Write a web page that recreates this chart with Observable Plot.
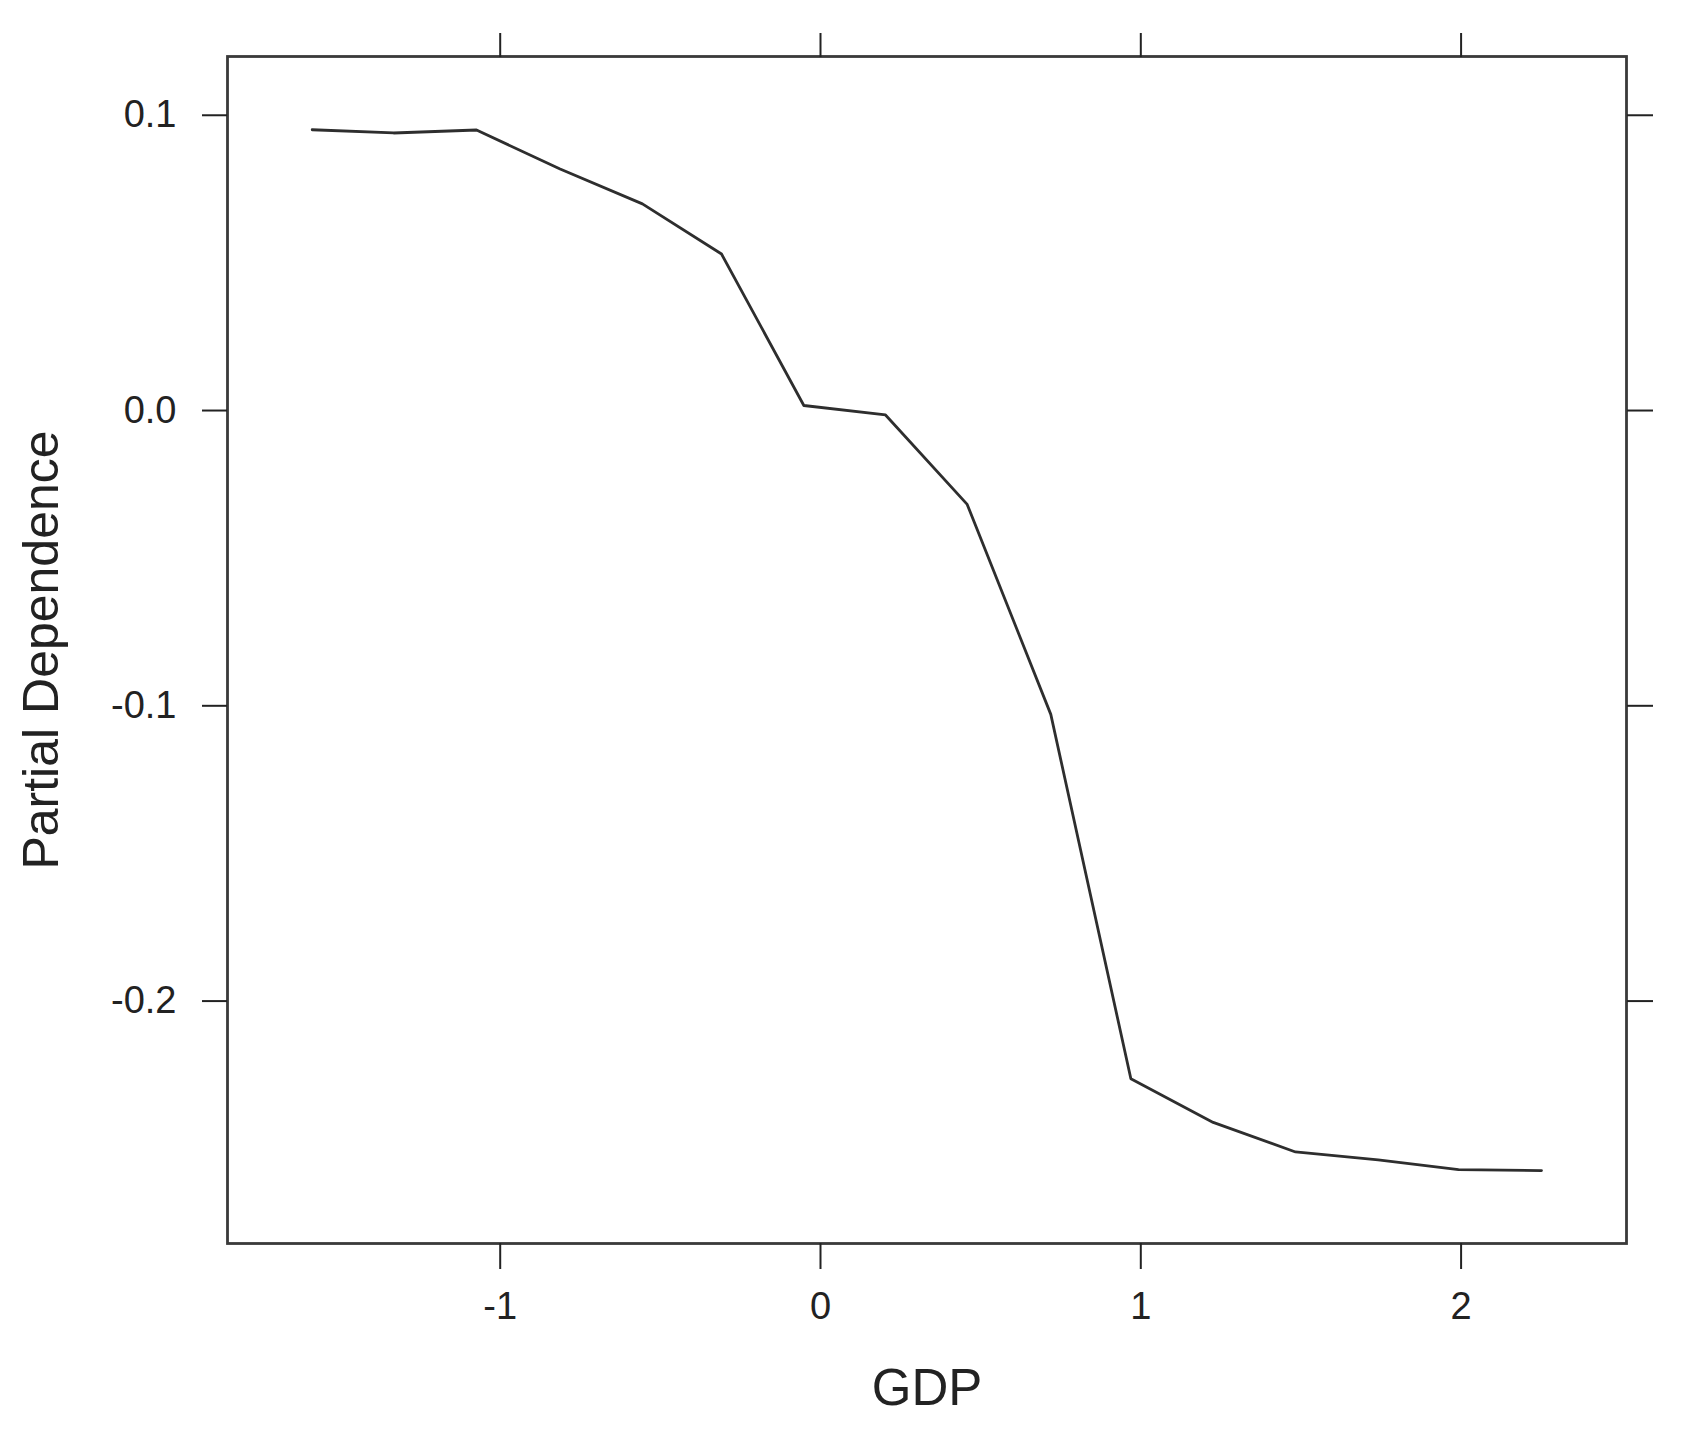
<!DOCTYPE html>
<html>
<head>
<meta charset="utf-8">
<script src="https://cdn.jsdelivr.net/npm/d3@7"></script>
<script src="https://cdn.jsdelivr.net/npm/@observablehq/plot@0.6"></script>
<style>
  html, body { margin: 0; padding: 0; background: #fff; }
  #chart svg { display: block; }
</style>
</head>
<body>
<div id="chart"></div>
<script>
// Data
const gdp = [-1.587, -1.333, -1.074, -0.813, -0.556, -0.309, -0.052, 0.203, 0.458, 0.719, 0.969, 1.226, 1.483, 1.741, 1.992, 2.251];
const partialDependence = [0.0951, 0.0940, 0.0950, 0.0818, 0.0700, 0.0530, 0.0017, -0.0015, -0.0318, -0.1029, -0.2263, -0.2411, -0.2511, -0.2538, -0.2571, -0.2574];
const xTicks = [-1, 0, 1, 2];
const yTicks = [-0.2, -0.1, 0.0, 0.1];
const xLabel = "GDP";
const yLabel = "Partial Dependence";

const data = gdp.map((g, i) => ({gdp: g, pd: partialDependence[i]}));

const font = "'Liberation Sans', Arial, Helvetica, sans-serif";

const chart = Plot.plot({
  width: 1681,
  height: 1438,
  marginLeft: 227,
  marginRight: 55,
  marginTop: 56,
  marginBottom: 195,
  style: {fontFamily: font, color: "#222", background: "#fff"},
  x: {domain: [-1.8514, 2.5164]},
  y: {domain: [-0.2821, 0.1199]},
  marks: [
    Plot.frame({stroke: "#3a3a3a", strokeWidth: 2.8}),
    Plot.axisX({anchor: "bottom", ticks: xTicks, tickSize: 26, tickPadding: 23, tickFormat: d => String(d), fontSize: 38, strokeWidth: 2, label: null}),
    Plot.axisX({anchor: "top", ticks: xTicks, tickSize: 24, tickFormat: () => "", strokeWidth: 2, label: null}),
    Plot.axisY({anchor: "left", ticks: yTicks, tickSize: 25, tickPadding: 26, tickFormat: d => d.toFixed(1), fontSize: 38, strokeWidth: 2, label: null}),
    Plot.axisY({anchor: "right", ticks: yTicks, tickSize: 26, tickFormat: () => "", strokeWidth: 2, label: null}),
    Plot.line(data, {x: "gdp", y: "pd", stroke: "#2e2e2e", strokeWidth: 2.8}),
    Plot.text([xLabel], {frameAnchor: "bottom", dy: 161, fontSize: 51, fill: "#222"}),
    Plot.text([yLabel], {frameAnchor: "left", textAnchor: "middle", dx: -186, rotate: -90, fontSize: 50, fill: "#222"})
  ]
});

document.getElementById("chart").appendChild(chart);
</script>
</body>
</html>
